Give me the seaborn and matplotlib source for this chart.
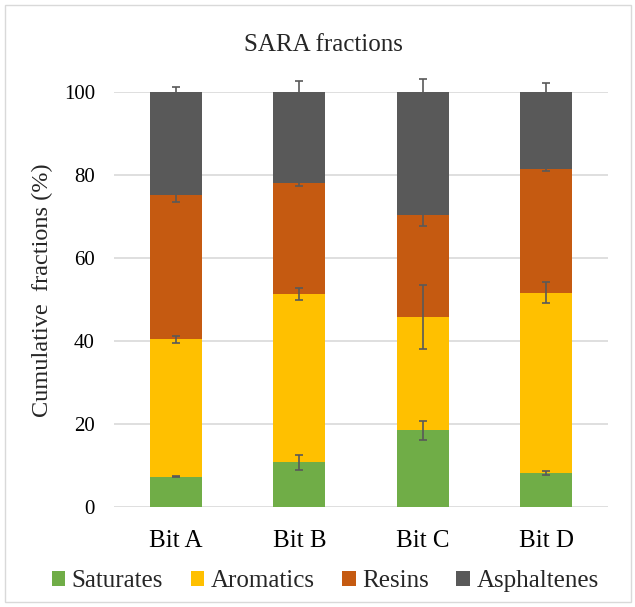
import numpy as np
import pandas as pd
import seaborn as sns
import matplotlib.pyplot as plt
from matplotlib.patches import Patch, Rectangle

# values (fractions in %)
bits = ['Bit A', 'Bit B', 'Bit C', 'Bit D']
saturates = [7.3, 10.8, 18.5, 8.2]
aromatics = [33.1, 40.5, 27.3, 43.5]
resins = [34.7, 26.7, 24.7, 29.8]
asphaltenes = [24.9, 22.0, 29.5, 18.5]

sat_err = [0.2, 1.8, 2.3, 0.4]
aro_err = [0.85, 1.45, 7.7, 2.45]
res_err = [1.5, 0.7, 2.65, 0.5]
asp_err = [1.3, 2.8, 3.2, 2.2]

names = ['Saturates', 'Aromatics', 'Resins', 'Asphaltenes']
colors = ['#70AD47', '#FFC000', '#C55A11', '#595959']

df = pd.DataFrame({'bit': bits, 'Saturates': saturates, 'Aromatics': aromatics,
                   'Resins': resins, 'Asphaltenes': asphaltenes})
cum = df[names].cumsum(axis=1)

sns.set_theme(style='white')
plt.rcParams['font.family'] = ['Liberation Serif', 'DejaVu Serif']

fig = plt.figure(figsize=(6.35, 6.07), dpi=100)
ax = fig.add_axes([0.18, 0.165, 0.777, 0.683])

# stacked bars: draw cumulative totals from the top layer down
for name, c in reversed(list(zip(names, colors))):
    sns.barplot(x=df['bit'], y=cum[name], color=c, saturation=1, width=0.42,
                linewidth=0, ax=ax, zorder=2)

x = np.arange(len(bits))
for name, err in zip(names, [sat_err, aro_err, res_err, asp_err]):
    ax.errorbar(x, cum[name], yerr=err, fmt='none', ecolor='#595959',
                elinewidth=1.2, capsize=3.2, capthick=1.2, zorder=3, clip_on=False)

ax.set_xlim(-0.5, 3.5)
ax.set_ylim(0, 100)
ax.set_yticks(range(0, 101, 20))
ax.yaxis.grid(True, color='#d9d9d9', linewidth=1.2, zorder=0)
ax.set_axisbelow(True)
for s in ax.spines.values():
    s.set_visible(False)
ax.tick_params(axis='y', length=0, labelsize=15, colors='black', pad=14)
ax.tick_params(axis='x', length=0, labelsize=18, colors='black', pad=17)
ax.set_xlabel('')
ax.set_ylabel('Cumulative  fractions (%)', fontsize=17.5)
ax.yaxis.set_label_coords(-0.125, 0.523)

fig.text(0.51, 0.926, 'SARA fractions', fontsize=18, ha='center', va='center')

handles = [Patch(facecolor=c, edgecolor='none') for c in colors]
fig.legend(handles, names, loc='center', bbox_to_anchor=(0.512, 0.043), ncol=4,
           frameon=False, fontsize=18, handlelength=0.55, handleheight=0.55,
           handletextpad=0.25, columnspacing=1.1, borderpad=0)

fig.patches.append(Rectangle((0.008, 0.008), 0.985, 0.984, transform=fig.transFigure,
                             fill=False, edgecolor='#d9d9d9', linewidth=1))

fig.savefig('out.png', dpi=100)
